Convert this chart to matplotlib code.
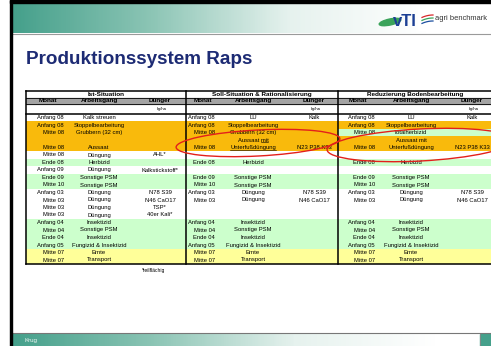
import numpy as np
import matplotlib
matplotlib.use("Agg")
import matplotlib.pyplot as plt
from matplotlib.patches import Rectangle, Ellipse
from matplotlib.colors import LinearSegmentedColormap

plt.rcParams['font.family'] = ['Liberation Sans', 'DejaVu Sans']

# ---- table content ----
sections = ["Ist-Situation", "Soll-Situation & Rationalisierung", "Reduzierung Bodenbearbeitung"]
col_heads = ["Monat", "Arbeitsgang", "Dünger"]
unit = "kg/ha"

monat_ist = ["Anfang 08", "Anfang 08", "Mitte 08", "", "Mitte 08", "Mitte 08", "Ende 08", "Anfang 09",
             "Ende 09", "Mitte 10", "Anfang 03", "Mitte 03", "Mitte 03", "Mitte 03", "Anfang 04",
             "Mitte 04", "Ende 04", "Anfang 05", "Mitte 07", "Mitte 07"]
arbeit_ist = ["Kalk streuen", "Stoppelbearbeitung", "Grubbern (32 cm)", "", "Aussaat", "Düngung",
              "Herbizid", "Düngung", "Sonstige PSM", "Sonstige PSM", "Düngung", "Düngung", "Düngung",
              "Düngung", "Insektizid", "Sonstige PSM", "Insektizid", "Fungizid & Insektizid",
              "Ernte", "Transport"]
duenger_ist = ["", "", "", "", "", "AHL*", "", "Kalkstickstoff*", "", "", "N78 S39", "N46 CaO17",
               "TSP*", "40er Kali*", "", "", "", "", "", ""]
farbe_ist = list("woooowgwggwwwwggggyy")

monat_soll = ["Anfang 08", "Anfang 08", "Mitte 08", "", "Mitte 08", "", "Ende 08", "", "Ende 09",
              "Mitte 10", "Anfang 03", "Mitte 03", "", "", "Anfang 04", "Mitte 04", "Ende 04",
              "Anfang 05", "Mitte 07", "Mitte 07"]
arbeit_soll = ["LU", "Stoppelbearbeitung", "Grubbern (32 cm)", "Aussaat mit", "Unterfußdüngung", "",
               "Herbizid", "", "Sonstige PSM", "Sonstige PSM", "Düngung", "Düngung", "", "",
               "Insektizid", "Sonstige PSM", "Insektizid", "Fungizid & Insektizid", "Ernte", "Transport"]
duenger_soll = ["Kalk", "", "", "", "N23 P38 K33", "", "", "", "", "", "N78 S39", "N46 CaO17",
                "", "", "", "", "", "", "", ""]
farbe_soll = list("woooowgwggwwwwggggyy")

monat_red = list(monat_soll)
arbeit_red = list(arbeit_soll)
arbeit_red[2] = "Totalherbizid"
duenger_red = list(duenger_soll)
farbe_red = list("wogoowgwggwwwwggggyy")

footnote = "*teilflächig"
title = "Produktionssystem Raps"
author = "Krug"

fills = {"w": "white", "o": "#f9ba0c", "g": "#ccffcc", "y": "#ffff99"}

# ---- figure in pixel coordinates ----
W, H = 491, 346
fig = plt.figure(figsize=(W / 100, H / 100), dpi=100)
ax = fig.add_axes([0, 0, 1, 1])
ax.set_xlim(0, W)
ax.set_ylim(H, 0)
ax.axis("off")

# header / footer bands
cmap = LinearSegmentedColormap.from_list("band", ["#45a08b", "#8cc5b5", "#e6f2ee", "#ffffff"])
grad = np.linspace(0, 1, 256)[None, :]
ax.imshow(np.clip(grad * 1.15, 0, 1), cmap=cmap, extent=[12, W, 33, 3], aspect="auto", zorder=1)
ax.plot([12, W], [33.5, 33.5], color="#9a9a9a", lw=0.8, zorder=2)
ax.imshow(np.clip(grad * 1.1, 0, 1), cmap=cmap, extent=[12, 480, H, 333.5], aspect="auto", zorder=1)
ax.add_patch(Rectangle((480, 333.5), 11, 13, color="#45a08b", zorder=1))
ax.plot([12, W], [333.3, 333.3], color="#777777", lw=0.8, zorder=2)
ax.plot([480, 480], [333.5, H], color="#888888", lw=0.6, zorder=2)
ax.add_patch(Rectangle((10, 0), W - 10, 3, color="black", zorder=3))
ax.add_patch(Rectangle((10, 0), 2, H, color="black", zorder=3))
ax.text(25, 340.5, author, fontsize=4.5, color="#eef6f3", va="center", zorder=4)

# logos
ax.add_patch(Ellipse((390, 22), 22, 6, angle=-12, color="#3aa35a", zorder=4))
ax.text(393, 26, "vTI", fontsize=12, fontweight="bold", color="#1c3f94", va="baseline", zorder=5)
ax.add_patch(Rectangle((418, 9), 73, 21, color="white", zorder=3))
for dy, c in zip([0, 3, 6], ["#d8282b", "#3aa35a", "#1c4fa0"]):
    xs = np.linspace(422, 433, 20)
    ax.plot(xs, 15 + dy + 0.05 * (xs - 433) ** 2 * 0.4, color=c, lw=0.9, zorder=4)
ax.text(435, 19, "agri benchmark", fontsize=5.4, color="#333333", va="center", zorder=5)

# title
ax.text(26, 64.5, title, fontsize=13.6, fontweight="bold", color="#1d2b74", va="baseline")

# ---- table ----
left, right = 26, 492
xdiv = [26, 186, 338, 492]
y_top, y_t, y_h, y_u = 90.5, 97.5, 104, 113.75
pitch = 7.5
n = len(monat_ist)
y_bot = y_u + pitch * n

monat_x = [64, 215, 375]
monat_head_x = [48, 203, 358]
arbeit_x = [99, 253, 411]
duenger_x = [160, 314, 472]

table = [(monat_ist, arbeit_ist, duenger_ist, farbe_ist),
         (monat_soll, arbeit_soll, duenger_soll, farbe_soll),
         (monat_red, arbeit_red, duenger_red, farbe_red)]

fs = 4.2
ax.add_patch(Rectangle((left, y_t), right - left, y_h - y_t, color="#a3a3a3", zorder=2))
texts = {}
for s, (mon, arb, dun, col) in enumerate(table):
    x0, x1 = xdiv[s], xdiv[s + 1]
    ax.text((x0 + x1) / 2, (y_top + y_t) / 2 + 0.3, sections[s], fontsize=4.6, fontweight="bold",
            ha="center", va="center", zorder=5)
    ax.text(monat_head_x[s], (y_t + y_h) / 2 + 0.2, col_heads[0], fontsize=4.6, fontweight="bold",
            ha="center", va="center", zorder=5)
    ax.text(arbeit_x[s], (y_t + y_h) / 2 + 0.2, col_heads[1], fontsize=4.6, fontweight="bold",
            ha="center", va="center", zorder=5)
    ax.text(duenger_x[s], (y_t + y_h) / 2 + 0.2, col_heads[2], fontsize=4.6, fontweight="bold",
            ha="center", va="center", zorder=5)
    ax.text(duenger_x[s] + 2, (y_h + y_u) / 2 + 0.5, unit, fontsize=3.0, ha="center", va="center", zorder=5)
    for i in range(n):
        yc = y_u + pitch * (i + 0.5)
        ax.add_patch(Rectangle((x0, y_u + pitch * i), x1 - x0, pitch, color=fills[col[i]], lw=0, zorder=2))
        if mon[i]:
            ax.text(monat_x[s], yc, mon[i], fontsize=fs, ha="right", va="center", zorder=5)
        if arb[i]:
            texts[(s, i)] = ax.text(arbeit_x[s], yc, arb[i], fontsize=fs, ha="center", va="center", zorder=5)
        if dun[i]:
            ax.text(duenger_x[s], yc, dun[i], fontsize=fs, ha="center", va="center", zorder=5)

# grid lines
lw_thin, lw_thick = 0.6, 1.1
ax.plot([left, right], [y_top, y_top], color="black", lw=lw_thick, zorder=6)
ax.plot([left, right], [y_t, y_t], color="black", lw=lw_thin, zorder=6)
ax.plot([left, right], [y_h, y_h], color="black", lw=lw_thin, zorder=6)
ax.plot([left, right], [y_u, y_u], color="black", lw=lw_thick, zorder=6)
ax.plot([left, right], [y_bot, y_bot], color="black", lw=lw_thick, zorder=6)
for xd in xdiv[:3]:
    ax.plot([xd, xd], [y_top, y_bot], color="black", lw=lw_thick, zorder=6)

ax.text(165, y_bot + 6.5, footnote, fontsize=3.6, ha="right", va="center")

# underlines in the Soll column
fig.canvas.draw()
r = fig.canvas.get_renderer()
inv = ax.transData.inverted()
t_a = texts[(1, 3)]
bb = t_a.get_window_extent(r)
probe = ax.text(0, 0, "mit", fontsize=fs)
wmit = probe.get_window_extent(r).width
probe.remove()
(xa, ya), (xb, yb) = inv.transform([[bb.x1 - wmit, bb.y0], [bb.x1, bb.y0]])
ax.plot([xa, xb], [ya - 0.3, yb - 0.3], color="black", lw=0.4, zorder=6)
bb = texts[(1, 4)].get_window_extent(r)
(xa, ya), (xb, yb) = inv.transform([[bb.x0, bb.y0], [bb.x1, bb.y0]])
ax.plot([xa, xb], [ya - 0.3, yb - 0.3], color="black", lw=0.4, zorder=6)

# red ellipses
ax.add_patch(Ellipse((258, 143), 164, 26, angle=-3, fill=False, ec="#e3201b", lw=1.0, zorder=7))
ax.add_patch(Ellipse((420, 145), 186, 32, angle=-3, fill=False, ec="#e3201b", lw=1.0, zorder=7))

fig.savefig("out.png", dpi=100)
